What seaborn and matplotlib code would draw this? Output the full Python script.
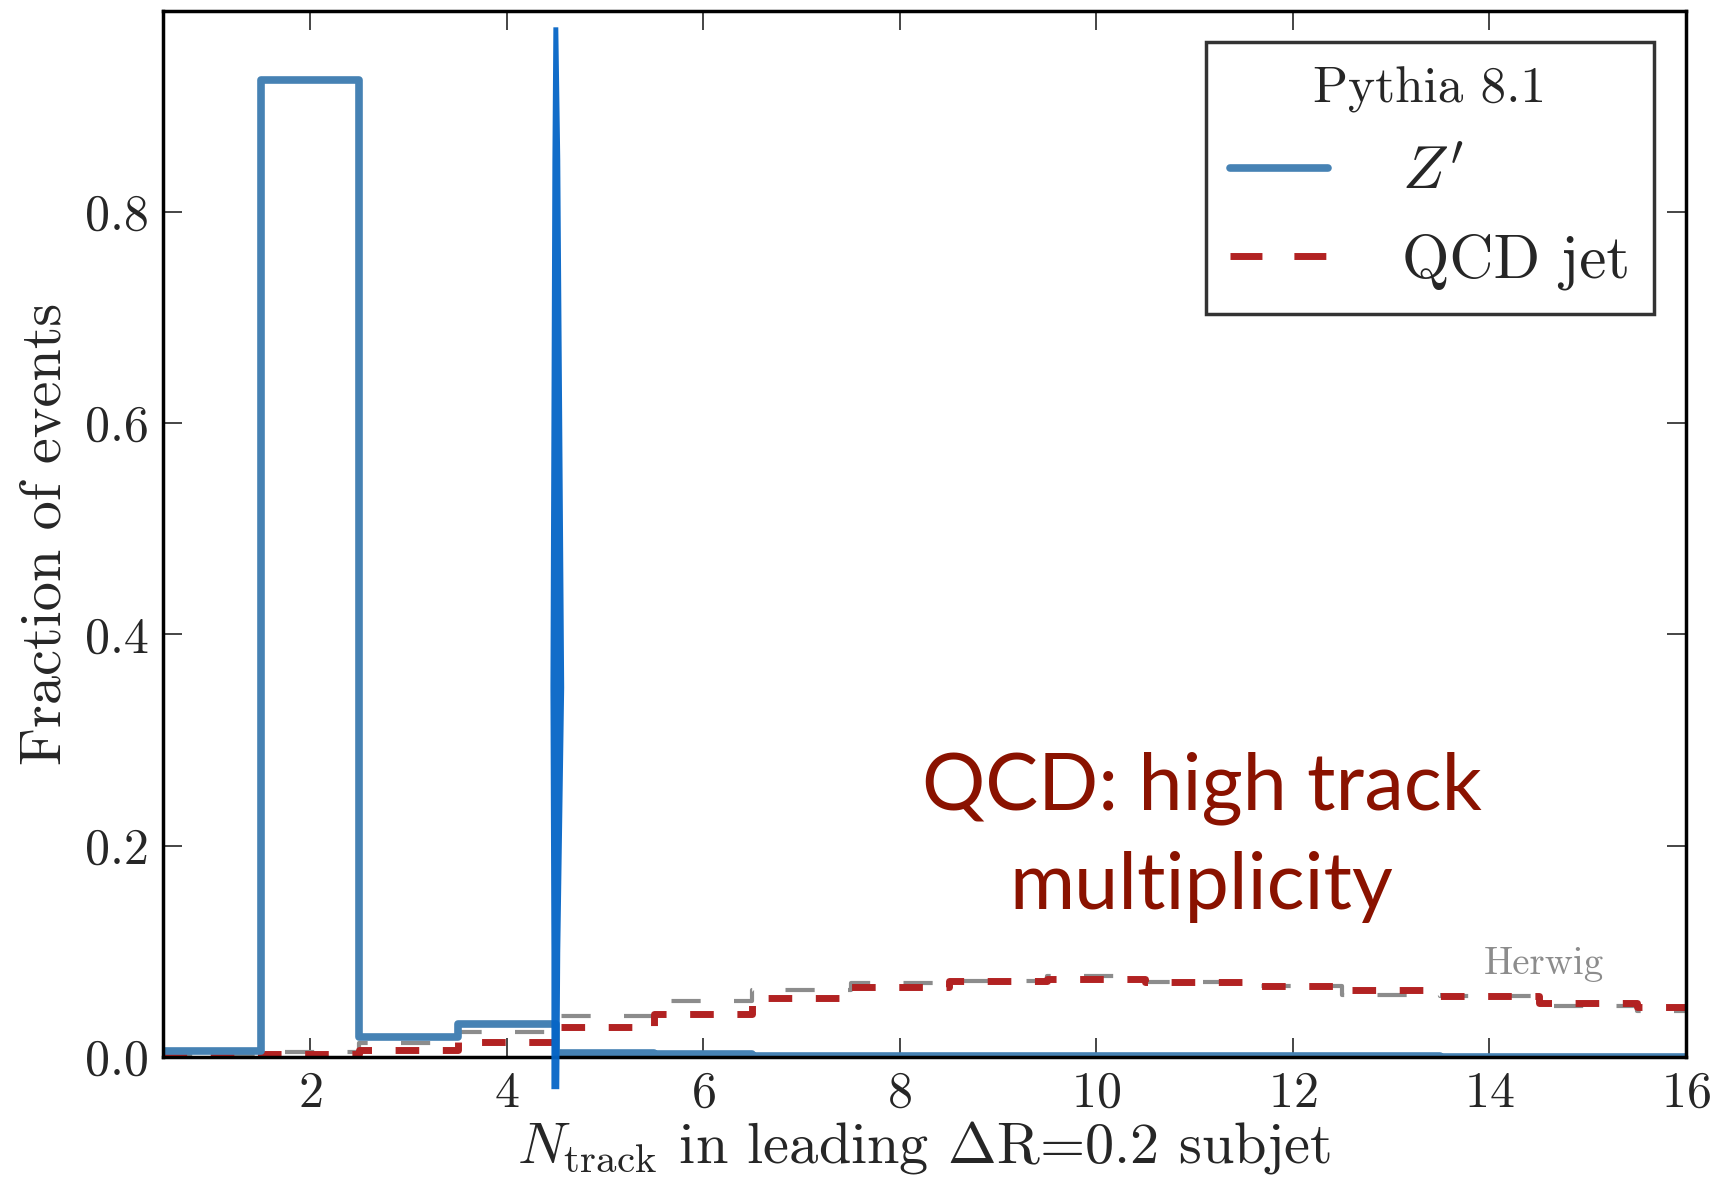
import numpy as np
import pandas as pd
import matplotlib
matplotlib.use('Agg')
import matplotlib.pyplot as plt
from matplotlib.lines import Line2D
import seaborn as sns

# bin centres / edges of the track multiplicity histogram
n_track = list(range(1, 17))
bin_edges = [x - 0.5 for x in range(1, 18)]

# fraction of events per bin
zprime = [0.006, 0.925, 0.019, 0.031, 0.004, 0.003, 0.0012, 0.001,
          0.0008, 0.0007, 0.0006, 0.0005, 0.0005, 0.0004, 0.0004, 0.0003]
qcd_pythia = [0.0025, 0.003, 0.007, 0.0145, 0.028, 0.041, 0.056, 0.066,
              0.072, 0.0735, 0.071, 0.067, 0.063, 0.058, 0.051, 0.047]
qcd_herwig = [0.002, 0.005, 0.013, 0.024, 0.0385, 0.053, 0.063, 0.0697,
              0.072, 0.0766, 0.071, 0.067, 0.059, 0.058, 0.048, 0.0435]

x_ticks = [2, 4, 6, 8, 10, 12, 14, 16]
y_ticks = [0.0, 0.2, 0.4, 0.6, 0.8]

df = pd.DataFrame({'ntrack': n_track, 'zprime': zprime,
                   'pythia': qcd_pythia, 'herwig': qcd_herwig})

sns.set_style('ticks')
plt.rcParams['font.family'] = ['cmr10', 'DejaVu Serif']
plt.rcParams['mathtext.fontset'] = 'cm'
plt.rcParams['axes.formatter.use_mathtext'] = True
plt.rcParams['axes.unicode_minus'] = False

fig = plt.figure(figsize=(17.31, 11.79), dpi=100)
ax = fig.add_axes([0.094, 0.1035, 0.880, 0.8872])

# herwig (thin grey dashed), pythia QCD (thick red dashed), Z' (solid blue)
sns.histplot(data=df, x='ntrack', weights='herwig', bins=bin_edges,
             element='step', fill=False, color='#8c8c8c', linewidth=3,
             linestyle=(0, (7, 8)), ax=ax)
sns.histplot(data=df, x='ntrack', weights='pythia', bins=bin_edges,
             element='step', fill=False, color='#b22222', linewidth=5,
             linestyle=(0, (3.4, 3.4)), ax=ax)
sns.histplot(data=df, x='ntrack', weights='zprime', bins=bin_edges,
             element='step', fill=False, color='#4682b4', linewidth=5.5, ax=ax)

# hand drawn marker stroke
ax.fill_betweenx([-0.03, 0.1, 0.35, 0.6, 0.85, 0.975],
                 [4.45, 4.45, 4.44, 4.45, 4.46, 4.47],
                 [4.53, 4.54, 4.58, 4.56, 4.54, 4.52],
                 color='#0565c6', alpha=0.95, linewidth=0, clip_on=False, zorder=5)

ax.set_xlim(0.5, 16)
ax.set_ylim(0, 0.99)
ax.set_xticks(x_ticks)
ax.set_yticks(y_ticks)
ax.set_yticklabels(['%.1f' % v for v in y_ticks])
ax.tick_params(direction='in', length=14, width=1.2, labelsize=36,
               top=True, right=True, pad=10)
for s in ax.spines.values():
    s.set_linewidth(2.5)
    s.set_color('black')

ax.set_xlabel(r'$N_{\rm track}$ in leading $\Delta$R=0.2 subjet', fontsize=42, labelpad=2)
ax.set_ylabel('Fraction of events', fontsize=42, labelpad=10)

handles = [Line2D([], [], color='#4682b4', linewidth=5.5),
           Line2D([], [], color='#b22222', linewidth=5, linestyle=(0, (4.6, 4.6)))]
leg = ax.legend(handles, [r"$Z'$", 'QCD jet'], title='Pythia 8.1',
                loc='upper right', bbox_to_anchor=(0.979, 0.970), borderaxespad=0,
                fontsize=44, title_fontsize=37, frameon=True, fancybox=False,
                handlelength=1.6, handletextpad=1.2, borderpad=0.4,
                labelspacing=0.53, edgecolor='black')
leg.get_frame().set_linewidth(2.5)

ax.text(11.07, 0.208, 'QCD: high track\nmultiplicity', color='#8a1200',
        fontsize=57, family=['Lato', 'DejaVu Sans'], ha='center', va='center',
        linespacing=1.45)
ax.text(14.55, 0.088, 'Herwig', color='#8c8c8c', fontsize=28, ha='center', va='center')

fig.savefig('out.png', dpi=100, facecolor='white')
